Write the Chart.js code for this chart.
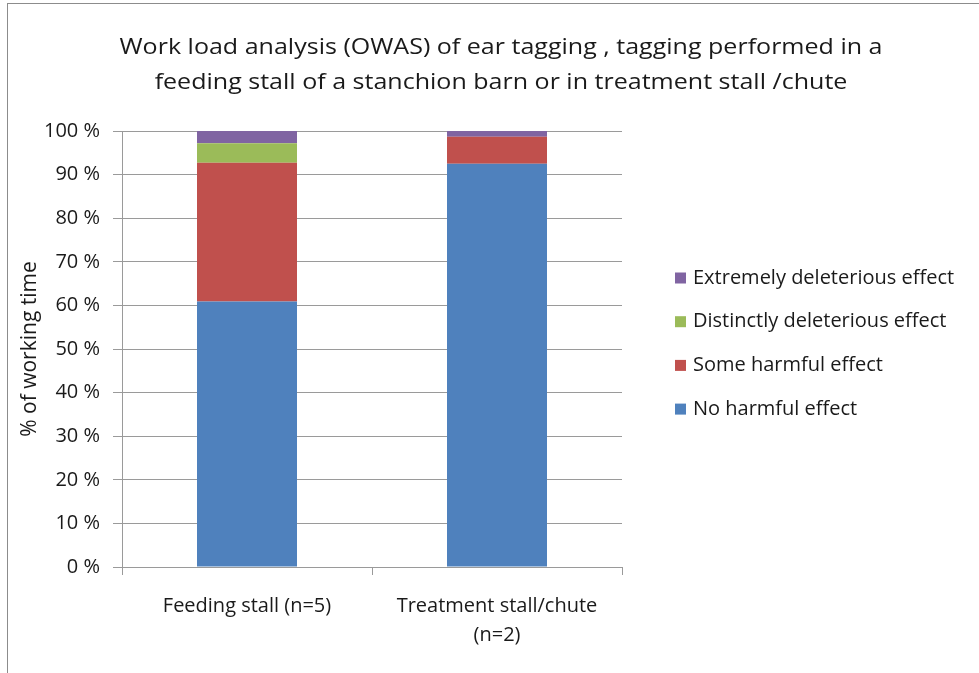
<!DOCTYPE html>
<html>
<head>
<meta charset="utf-8">
<script src="https://cdn.jsdelivr.net/npm/chart.js@4"></script>
<style>
  body { margin: 0; background: #fff; overflow: hidden; }
  .frame { position: absolute; left: 7px; top: 3px; width: 1000px; height: 700px; border: 1px solid #8c8c8c; }
  .wrap { position: absolute; left: 0; top: 0; width: 979px; height: 673px; }
</style>
</head>
<body>
<div class="frame"></div>
<div class="wrap"><canvas id="chart"></canvas></div>
<script>
const categories = ['Feeding stall (n=5)', ['Treatment stall/chute', '(n=2)']];
const noHarm = [60.9, 92.5];
const someHarm = [31.8, 6.2];
const distinct = [4.5, 0];
const extreme = [2.8, 1.3];
const yTicks = [0, 10, 20, 30, 40, 50, 60, 70, 80, 90, 100];
const titleLines = ['Work load analysis (OWAS) of ear tagging , tagging performed in a',
                    'feeding stall of a stanchion barn or in treatment stall /chute'];

const FONT = '"Open Sans", Lato, sans-serif';
const TEXT = '#1a1a1a';

// the original title is set in a wide face, so draw it stretched
const wideTitle = {
  id: 'wideTitle',
  afterDraw(chart, args, opts) {
    const ctx = chart.ctx;
    ctx.save();
    ctx.font = opts.size + 'px ' + FONT;
    ctx.fillStyle = TEXT;
    ctx.textAlign = 'center';
    ctx.textBaseline = 'alphabetic';
    const sx = opts.width / ctx.measureText(titleLines[0]).width;
    titleLines.forEach((line, i) => {
      ctx.save();
      ctx.translate(opts.cx, opts.baseline + i * opts.step);
      ctx.scale(sx, 1);
      ctx.fillText(line, 0, 0);
      ctx.restore();
    });
    ctx.restore();
  }
};

// legend drawn by hand so it sits where the original has it
const sideLegend = {
  id: 'sideLegend',
  afterDraw(chart, args, opts) {
    const ctx = chart.ctx;
    const sets = chart.data.datasets.slice().reverse();
    ctx.save();
    ctx.font = '20px ' + FONT;
    ctx.textBaseline = 'middle';
    ctx.textAlign = 'left';
    sets.forEach((ds, i) => {
      const y = opts.top + i * opts.step;
      ctx.fillStyle = ds.backgroundColor;
      ctx.fillRect(opts.x, y - opts.box / 2, opts.box, opts.box);
      ctx.fillStyle = TEXT;
      ctx.fillText(ds.label, opts.x + opts.box + 7, y);
    });
    ctx.restore();
  }
};

new Chart(document.getElementById('chart'), {
  type: 'bar',
  data: {
    labels: categories,
    datasets: [
      { label: 'No harmful effect', data: noHarm, backgroundColor: '#4F81BD' },
      { label: 'Some harmful effect', data: someHarm, backgroundColor: '#C0504D' },
      { label: 'Distinctly deleterious effect', data: distinct, backgroundColor: '#9BBB59' },
      { label: 'Extremely deleterious effect', data: extreme, backgroundColor: '#8064A2' }
    ]
  },
  plugins: [wideTitle, sideLegend],
  options: {
    responsive: true,
    maintainAspectRatio: false,
    animation: false,
    layout: { padding: { left: 17, right: 357, top: 131, bottom: 0 } },
    datasets: { bar: { categoryPercentage: 1, barPercentage: 0.4 } },
    plugins: {
      tooltip: { enabled: false },
      legend: { display: false },
      title: { display: false },
      wideTitle: { cx: 501, baseline: 54, step: 35, size: 22, width: 763 },
      sideLegend: { x: 675, top: 278, step: 43.7, box: 11 }
    },
    scales: {
      x: {
        stacked: true,
        afterFit: (axis) => { axis.height = 106; },
        grid: { offset: true, drawOnChartArea: false, color: '#9a9a9a', tickLength: 8 },
        border: { color: '#9a9a9a' },
        ticks: { color: TEXT, font: { family: FONT, size: 20, lineHeight: 1.45 }, padding: 17, maxRotation: 0 }
      },
      y: {
        stacked: true,
        min: 0,
        max: 100,
        afterBuildTicks: (axis) => { axis.ticks = yTicks.map(v => ({ value: v })); },
        afterFit: (axis) => { axis.width = 105; },
        grid: { color: '#9a9a9a', tickLength: 9 },
        border: { color: '#9a9a9a' },
        ticks: {
          color: TEXT,
          padding: 13,
          font: { family: FONT, size: 20 },
          callback: (v) => v + ' %'
        },
        title: {
          display: true,
          text: '% of working time',
          color: TEXT,
          font: { family: FONT, size: 21 },
          padding: { top: 0, bottom: 0 }
        }
      }
    }
  }
});
</script>
</body>
</html>
